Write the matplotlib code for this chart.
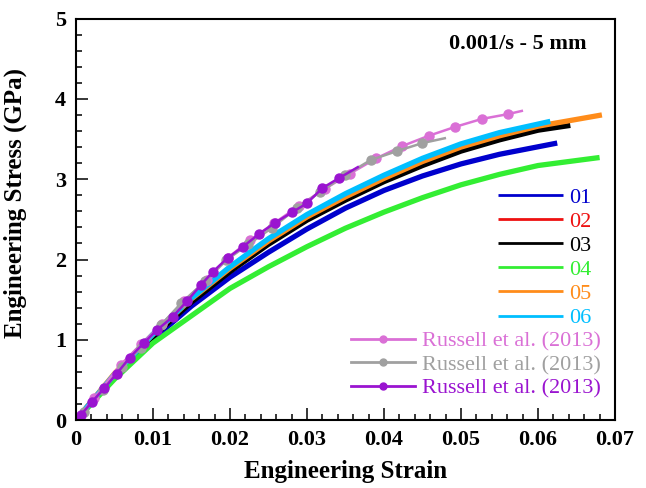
import matplotlib.pyplot as plt
from matplotlib.ticker import MultipleLocator

plt.rcParams['font.family'] = ['Liberation Serif', 'DejaVu Serif']

# test curves (strain, stress GPa)
x01 = [0, 0.005, 0.010, 0.015, 0.020, 0.025, 0.030, 0.035, 0.040, 0.045, 0.050, 0.055, 0.0625]
y01 = [0, 0.54, 1.01, 1.42, 1.78, 2.09, 2.38, 2.64, 2.86, 3.04, 3.19, 3.31, 3.45]
x02 = [0, 0.005, 0.010, 0.015, 0.020, 0.025, 0.030, 0.035, 0.040, 0.045, 0.050, 0.055, 0.061]
y02 = [0, 0.56, 1.05, 1.49, 1.87, 2.21, 2.51, 2.76, 2.99, 3.19, 3.37, 3.51, 3.64]
x03 = [0, 0.005, 0.010, 0.015, 0.020, 0.025, 0.030, 0.035, 0.040, 0.045, 0.050, 0.055, 0.060, 0.0642]
y03 = [0, 0.55, 1.04, 1.47, 1.85, 2.19, 2.49, 2.74, 2.97, 3.17, 3.35, 3.49, 3.61, 3.67]
x04 = [0, 0.005, 0.010, 0.015, 0.020, 0.025, 0.030, 0.035, 0.040, 0.045, 0.050, 0.055, 0.060, 0.068]
y04 = [0, 0.51, 0.96, 1.30, 1.64, 1.91, 2.16, 2.39, 2.59, 2.77, 2.93, 3.06, 3.17, 3.27]
x05 = [0, 0.005, 0.010, 0.015, 0.020, 0.025, 0.030, 0.035, 0.040, 0.045, 0.050, 0.055, 0.060, 0.0683]
y05 = [0, 0.58, 1.07, 1.51, 1.89, 2.23, 2.53, 2.78, 3.01, 3.22, 3.40, 3.54, 3.66, 3.80]
x06 = [0, 0.005, 0.010, 0.015, 0.020, 0.025, 0.030, 0.035, 0.040, 0.045, 0.050, 0.055, 0.0616]
y06 = [0, 0.57, 1.07, 1.52, 1.91, 2.26, 2.56, 2.82, 3.05, 3.26, 3.44, 3.58, 3.72]

xr1 = [0, 0.0023, 0.0058, 0.0085, 0.0112, 0.0140, 0.0170, 0.0197, 0.0226, 0.0257, 0.0290,
       0.0323, 0.0356, 0.0390, 0.0423, 0.0458, 0.0492, 0.0527, 0.0561, 0.0579]
yr1 = [0, 0.27, 0.69, 0.95, 1.20, 1.48, 1.75, 2.02, 2.24, 2.45, 2.67,
       2.88, 3.07, 3.26, 3.41, 3.54, 3.65, 3.75, 3.81, 3.85]
xr2 = [0, 0.0010, 0.0035, 0.0060, 0.0084, 0.0111, 0.0137, 0.0168, 0.0195, 0.0224, 0.0254,
       0.0287, 0.0317, 0.0350, 0.0383, 0.0417, 0.0450, 0.0479]
yr2 = [0, 0.10, 0.38, 0.66, 0.90, 1.19, 1.46, 1.73, 1.99, 2.19, 2.39,
       2.64, 2.84, 3.05, 3.24, 3.35, 3.45, 3.51]
xr3 = [0, 0.0006, 0.0021, 0.0037, 0.0053, 0.0070, 0.0088, 0.0105, 0.0126, 0.0144, 0.0162,
       0.0178, 0.0197, 0.0217, 0.0238, 0.0259, 0.0281, 0.0300, 0.0320, 0.0341, 0.0366]
yr3 = [0, 0.06, 0.23, 0.40, 0.58, 0.78, 0.96, 1.12, 1.29, 1.48, 1.68,
       1.85, 2.02, 2.16, 2.32, 2.46, 2.59, 2.70, 2.89, 3.01, 3.15]

xticks = [0, 0.01, 0.02, 0.03, 0.04, 0.05, 0.06, 0.07]
xticklabels = ['0', '0.01', '0.02', '0.03', '0.04', '0.05', '0.06', '0.07']

fig = plt.figure(figsize=(6.46, 4.88), dpi=100)
ax = fig.add_axes([0.1176, 0.139, 0.8344, 0.823])

tests = [(x01, y01, '01', '#0000CD'), (x02, y02, '02', '#EE1111'),
         (x03, y03, '03', 'black'), (x04, y04, '04', '#33EE33'),
         (x05, y05, '05', '#FF8C1A'), (x06, y06, '06', '#00BFFF')]
h1 = []
for xs, ys, lab, c in tests:
    ln, = ax.plot(xs, ys, color=c, lw=3.8, label=lab, solid_capstyle='butt')
    h1.append(ln)

russ = [(xr1, yr1, '#DA70D6'), (xr2, yr2, '#A0A0A0'), (xr3, yr3, '#9A14D0')]
h2 = []
for xs, ys, c in russ:
    ln, = ax.plot(xs, ys, color=c, lw=1.8, marker='o', ms=6.5,
                  markevery=slice(1, -1), label='Russell et al. (2013)')
    h2.append(ln)

ax.set_xlim(0, 0.07)
ax.set_ylim(0, 5)
ax.set_xticks(xticks)
ax.set_xticklabels(xticklabels)
ax.xaxis.set_minor_locator(MultipleLocator(0.002))
ax.yaxis.set_major_locator(MultipleLocator(1))
ax.yaxis.set_minor_locator(MultipleLocator(0.2))
ax.tick_params(which='major', direction='in', length=8.5, width=1.1, labelsize=16, pad=7)
ax.tick_params(which='minor', direction='in', length=4.3, width=1.1)
for t in ax.get_xticklabels() + ax.get_yticklabels():
    t.set_fontweight('bold')
for s in ax.spines.values():
    s.set_linewidth(1.5)

ax.set_xlabel('Engineering Strain', fontsize=18, fontweight='bold', labelpad=7)
ax.set_ylabel('Engineering Stress (GPa)', fontsize=18, fontweight='bold')
ax.yaxis.set_label_coords(-0.091, 0.54)

ax.text(0.948, 0.936, '0.001/s - 5 mm', transform=ax.transAxes, ha='right', va='center',
        fontsize=16, fontweight='bold')

leg1 = ax.legend(handles=h1, loc='upper right', bbox_to_anchor=(0.957, 0.58), frameon=False,
                 fontsize=16, handlelength=2.9, handletextpad=0.3, labelspacing=0.16,
                 borderaxespad=0, borderpad=0)
for ln in leg1.get_lines():
    ln.set_linewidth(2)
for t, (_, _, _, c) in zip(leg1.get_texts(), tests):
    t.set_color(c)
ax.add_artist(leg1)

leg2 = ax.legend(handles=h2, loc='upper right', bbox_to_anchor=(0.974, 0.222), frameon=False,
                 fontsize=16, handlelength=2.9, handletextpad=0.3, labelspacing=0.14,
                 borderaxespad=0, borderpad=0, numpoints=1)
for ln in leg2.get_lines():
    ln.set_linewidth(2)
    ln.set_markersize(5)
for t, (_, _, c) in zip(leg2.get_texts(), russ):
    t.set_color(c)

fig.savefig('out.png', dpi=100)
